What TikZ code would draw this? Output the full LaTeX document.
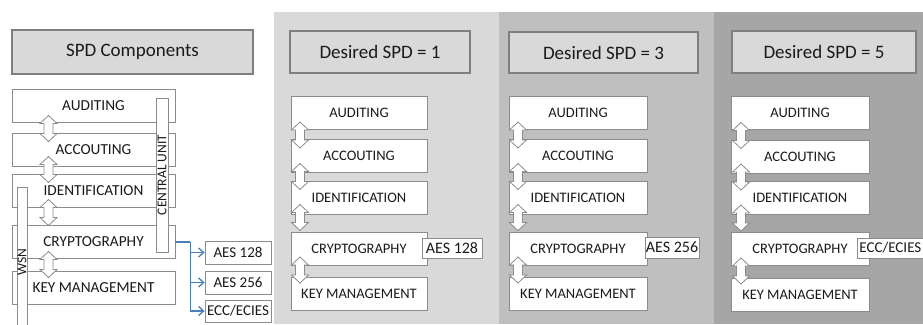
\documentclass[tikz,border=0pt]{standalone}
\usepackage{fontspec}
\setmainfont{Carlito}
\usetikzlibrary{arrows.meta}
\definecolor{pA}{HTML}{D9D9D9}
\definecolor{pB}{HTML}{BFBFBF}
\definecolor{pC}{HTML}{A6A6A6}
\definecolor{hdrfill}{HTML}{D9D9D9}
\definecolor{hdrline}{HTML}{7F7F7F}
\definecolor{boxline}{HTML}{8C8C8C}
\definecolor{conn}{HTML}{4A7EBB}
\definecolor{ink}{HTML}{1A1A1A}
\begin{document}
\begin{tikzpicture}[x=1pt,y=-1pt,
  hdrbox/.style={draw=hdrline, line width=1.8pt, fill=hdrfill, inner sep=0pt, text=ink,
    font=\fontsize{19}{22}\selectfont},
  comp/.style={draw=boxline, line width=0.8pt, fill=white, inner sep=0pt, text=ink,
    minimum height=33pt, font=\fontsize{14.5}{16}\selectfont},
  lcomp/.style={comp, font=\fontsize{15.3}{17}\selectfont},
  vbar/.style={draw=boxline, line width=0.8pt, fill=white, inner sep=0pt, text=ink,
    rotate=90, font=\fontsize{13.5}{15}\selectfont},
  tag/.style={draw=boxline, line width=0.8pt, fill=white, inner sep=0pt, text=ink,
    font=\fontsize{15}{17}\selectfont},
  ptag/.style={tag, font=\fontsize{16}{18}\selectfont},
  dblarrow/.pic={\draw[draw=boxline, line width=0.8pt, fill=white]
    (0,-13) -- (8.5,-5) -- (4.5,-5) -- (4.5,5) -- (8.5,5) -- (0,13)
    -- (-8.5,5) -- (-4.5,5) -- (-4.5,-5) -- (-8.5,-5) -- cycle;},
  link/.style={draw=conn, line width=1.3pt, -{Straight Barb[length=5pt,width=9pt]}}
]
\useasboundingbox (0,0) rectangle (923,324);
% background panels
\fill[pA] (274,12) rectangle (499,324);
\fill[pB] (499,12) rectangle (714,324);
\fill[pC] (714,12) rectangle (923,324);

% headers
\node[hdrbox, minimum width=241pt, minimum height=44pt] (h0) at (132.5,52) {SPD Components};
\node[hdrbox, minimum width=180pt, minimum height=42pt] (h1) at (380,52) {Desired SPD = 1};
\node[hdrbox, minimum width=189pt, minimum height=41pt] (h2) at (603.5,52.5) {Desired SPD = 3};
\node[hdrbox, minimum width=184pt, minimum height=42pt] (h3) at (824,52) {Desired SPD = 5};

% left column
\node[lcomp, minimum width=163pt] (l1) at (93.5,105.5) {AUDITING};
\node[lcomp, minimum width=163pt] (l2) at (93.5,149.5) {ACCOUTING};
\node[lcomp, minimum width=163pt] (l3) at (93.5,191) {IDENTIFICATION};
\node[lcomp, minimum width=163pt] (l4) at (93.5,242) {CRYPTOGRAPHY};
\node[lcomp, minimum width=163pt] (l5) at (93.5,287.5) {KEY MANAGEMENT};
\pic (la1) at (48.5,128.5) {dblarrow};
\pic (la2) at (48.5,169.5) {dblarrow};
\pic (la3) at (48.5,212.5) {dblarrow};
\pic (la4) at (48.5,264.5) {dblarrow};
\node[vbar, minimum width=154pt, minimum height=12pt] (cu) at (162,175) {CENTRAL UNIT};
\node[vbar, minimum width=150pt, minimum height=10pt] (wsn) at (22,262) {WSN};

\node[tag, minimum width=66pt, minimum height=23pt] (a1) at (238,252.5) {AES 128};
\node[tag, minimum width=66pt, minimum height=23pt] (a2) at (238,282.5) {AES 256};
\node[tag, minimum width=66pt, minimum height=22pt] (a3) at (238,311) {ECC/ECIES};
\coordinate (split) at ([xshift=15pt]l4.east);
\draw[draw=conn, line width=1.3pt] (l4.east) -- (split);
\draw[link] (split) |- (a1.west);
\draw[link] (split) |- (a2.west);
\draw[link] (split) |- (a3.west);

% panel 1
\node[comp, minimum width=136pt] (p1a) at (359,112.5) {AUDITING};
\node[comp, minimum width=136pt] (p1b) at (359,156) {ACCOUTING};
\node[comp, minimum width=136pt] (p1c) at (359,198) {IDENTIFICATION};
\node[comp, minimum width=136pt] (p1d) at (359,248.5) {CRYPTOGRAPHY};
\node[comp, minimum width=136pt] (p1e) at (359,293.5) {KEY MANAGEMENT};
\pic (q1a) at (300,135) {dblarrow};
\pic (q1b) at (300,176.5) {dblarrow};
\pic (q1c) at (300,217.5) {dblarrow};
\pic (q1d) at (300,270) {dblarrow};
\node[ptag, minimum width=60pt, minimum height=20pt] (t1) at (452,248) {AES 128};

% panel 2
\node[comp, minimum width=138pt] (p2a) at (578,112.5) {AUDITING};
\node[comp, minimum width=138pt] (p2b) at (578,156) {ACCOUTING};
\node[comp, minimum width=138pt] (p2c) at (578,198) {IDENTIFICATION};
\node[comp, minimum width=138pt] (p2d) at (578,248.5) {CRYPTOGRAPHY};
\node[comp, minimum width=138pt] (p2e) at (578,293.5) {KEY MANAGEMENT};
\pic (q2a) at (518,135) {dblarrow};
\pic (q2b) at (518,176.5) {dblarrow};
\pic (q2c) at (518,217.5) {dblarrow};
\pic (q2d) at (518,270) {dblarrow};
\node[ptag, minimum width=54pt, minimum height=21pt] (t2) at (672,247.5) {AES 256};

% panel 3
\node[comp, minimum width=138pt] (p3a) at (800,113) {AUDITING};
\node[comp, minimum width=138pt] (p3b) at (800,156.5) {ACCOUTING};
\node[comp, minimum width=138pt] (p3c) at (800,198) {IDENTIFICATION};
\node[comp, minimum width=138pt] (p3d) at (800,249) {CRYPTOGRAPHY};
\node[comp, minimum width=138pt] (p3e) at (800,294.5) {KEY MANAGEMENT};
\pic (q3a) at (741,135.5) {dblarrow};
\pic (q3b) at (741,177) {dblarrow};
\pic (q3c) at (741,218) {dblarrow};
\pic (q3d) at (741,271) {dblarrow};
\node[tag, anchor=west, minimum height=20pt, inner xsep=2pt, text width=74pt, align=left] (t3) at (857,248) {ECC/ECIES};
\end{tikzpicture}
\end{document}
